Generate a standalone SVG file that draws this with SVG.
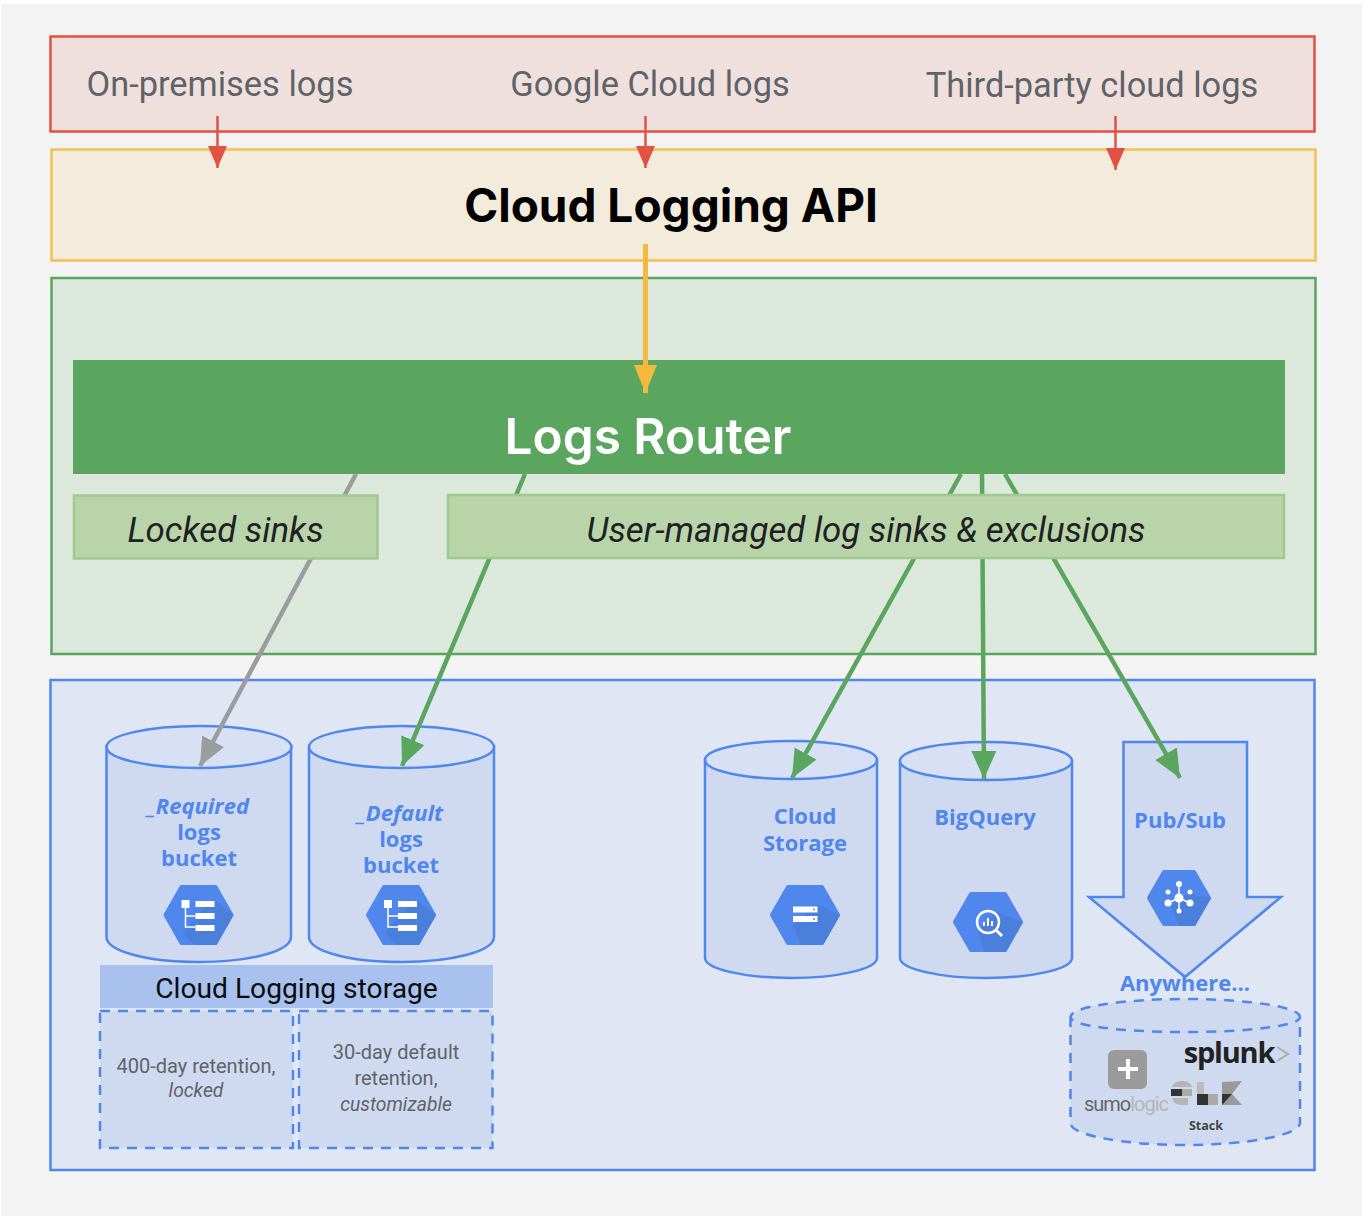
<svg xmlns="http://www.w3.org/2000/svg" width="1368" height="1222" viewBox="0 0 1368 1222">
<style>
.r{font-family:Roboto,"Liberation Sans",sans-serif}
.gray{fill:#5f6368;font-size:34.400px;text-anchor:middle}
.blue{font-family:"Open Sans","Liberation Sans",sans-serif;font-weight:700;font-size:22px;fill:#5087ec;text-anchor:middle}
.sm{font-family:Roboto,"Liberation Sans",sans-serif;font-size:20px;fill:#5f6368;text-anchor:middle}
.smi{font-size:19.300px;font-style:italic}
.sink{font-family:Roboto,"Liberation Sans",sans-serif;font-size:34.800px;font-style:italic;fill:#202124;text-anchor:middle}
.cyl{fill:#cfdaf1;stroke:#5087ec;stroke-width:2.500}
.top{fill:#d7e0f4;stroke:#5087ec;stroke-width:2.500}
.dash{fill:#cfdaf1;stroke:#5087ec;stroke-width:2.500;stroke-dasharray:10 8}
.hex{fill:#5087ec;stroke:#5087ec;stroke-width:4;stroke-linejoin:round}
.shade{fill:#4a7fdc}
.w{fill:#fff}
</style>
<defs>
<marker id="red" markerUnits="userSpaceOnUse" markerWidth="24" markerHeight="20" refX="22" refY="9.500" orient="auto"><path d="M0 0L22 9.500L0 19z" fill="#e15241"/></marker>
<marker id="yel" markerUnits="userSpaceOnUse" markerWidth="30" markerHeight="26" refX="28" refY="11.500" orient="auto"><path d="M0 0L28 11.500L0 23z" fill="#f4b93e"/></marker>
<marker id="grn" markerUnits="userSpaceOnUse" markerWidth="30" markerHeight="28" refX="28" refY="12.500" orient="auto"><path d="M0 0L28 12.500L0 25z" fill="#5aa65f"/></marker>
<marker id="gry" markerUnits="userSpaceOnUse" markerWidth="30" markerHeight="28" refX="28" refY="12.500" orient="auto"><path d="M0 0L28 12.500L0 25z" fill="#9b9ca0"/></marker>
</defs>
<rect width="1368" height="1222" fill="#fff"/>
<rect x="1" y="4" width="1361" height="1212" fill="#f3f3f3"/>

<g id="sources">
<rect x="50.500" y="36.500" width="1264" height="95" fill="#f0e0dd" stroke="#e15241" stroke-width="2.500"/>
<text class="r gray" x="220" y="96">On-premises logs</text>
<text class="r gray" x="650" y="96">Google Cloud logs</text>
<text class="r gray" x="1092" y="97">Third-party cloud logs</text>
</g>
<g id="api">
<rect x="51.500" y="149.500" width="1264" height="111" fill="#f3ecdc" stroke="#f4c04f" stroke-width="2.500"/>
<text x="671" y="222" font-family="Inter,Roboto,sans-serif" font-size="46" font-weight="700" fill="#000" text-anchor="middle">Cloud Logging API</text>
</g>
<g id="router-panel">
<rect x="51.500" y="278" width="1264" height="376" fill="#dde8dd" stroke="#5aa65f" stroke-width="2.500"/>
</g>
<g id="storage-panel">
<rect x="50.500" y="680" width="1264" height="490" fill="#e0e6f3" stroke="#5087ec" stroke-width="2.500"/>
</g>

<g id="required-bucket">
<path class="cyl" d="M106.500 747V937C106.500 951 147 962 199 962C251 962 291 951 291 937V747z"/>
<ellipse class="top" cx="199" cy="747" rx="92.500" ry="21"/>
<text class="blue" x="198" y="814" font-style="italic">_Required</text>
<text class="blue" x="199" y="840">logs</text>
<text class="blue" x="199" y="866">bucket</text>
<g transform="translate(198.500,915)">
<path class="hex" d="M-33 0L-17 -28H17L33 0L17 28H-17z"/>
<path class="shade" d="M14 -16L35 0L18 30H-4L-16 18z"/>
<rect class="w" x="-17" y="-15" width="8" height="8"/><path d="M-13 -8V12H-3M-13 1H-3" fill="none" stroke="#fff" stroke-width="1.500"/>
<rect class="w" x="-3" y="-14" width="19" height="6"/><rect class="w" x="-3" y="-2" width="19" height="6"/><rect class="w" x="-3" y="10" width="19" height="6"/>
</g>
</g>
<g id="default-bucket">
<path class="cyl" d="M309 747V937C309 951 349 962 401 962C453 962 494 951 494 937V747z"/>
<ellipse class="top" cx="401.500" cy="747" rx="92.500" ry="21"/>
<text class="blue" x="400" y="821" font-style="italic">_Default</text>
<text class="blue" x="401" y="847">logs</text>
<text class="blue" x="401" y="873">bucket</text>
<g transform="translate(401,915)">
<path class="hex" d="M-33 0L-17 -28H17L33 0L17 28H-17z"/>
<path class="shade" d="M14 -16L35 0L18 30H-4L-16 18z"/>
<rect class="w" x="-17" y="-15" width="8" height="8"/><path d="M-13 -8V12H-3M-13 1H-3" fill="none" stroke="#fff" stroke-width="1.500"/>
<rect class="w" x="-3" y="-14" width="19" height="6"/><rect class="w" x="-3" y="-2" width="19" height="6"/><rect class="w" x="-3" y="10" width="19" height="6"/>
</g>
</g>
<g id="logging-storage">
<rect x="100" y="965" width="393" height="43" fill="#a9c1ee"/>
<text class="r" x="296.500" y="998" font-size="28.200" fill="#0b0b0b" text-anchor="middle">Cloud Logging storage</text>
</g>
<g id="retention-400">
<rect class="dash" x="100" y="1011" width="193" height="137"/>
<text class="sm" x="196" y="1073">400-day retention,</text>
<text class="sm smi" x="196" y="1097">locked</text>
</g>
<g id="retention-30">
<rect class="dash" x="299" y="1011" width="193.500" height="137"/>
<text class="sm" x="396" y="1059">30-day default</text>
<text class="sm" x="396" y="1085">retention,</text>
<text class="sm smi" x="396" y="1111">customizable</text>
</g>
<g id="cloud-storage">
<path class="cyl" d="M705 760V958C705 969 745 978 791 978C837 978 877 969 877 958V760z"/>
<ellipse class="top" cx="791" cy="760" rx="86" ry="19"/>
<text class="blue" x="805" y="824">Cloud</text>
<text class="blue" x="805" y="851">Storage</text>
<g transform="translate(805,915)">
<path class="hex" d="M-33 0L-17 -28H17L33 0L17 28H-17z"/>
<path class="shade" d="M12 -11L35 0L18 30H-4L-12 10z"/>
<rect class="w" x="-12" y="-8.500" width="24.500" height="6"/><rect class="w" x="-12" y="1" width="24.500" height="6"/>
<path d="M8 -5.500H10M8 4H10" stroke="#5087ec" stroke-width="1.500"/>
</g>
</g>
<g id="bigquery">
<path class="cyl" d="M900 761V958C900 969 940 978 986 978C1032 978 1072 969 1072 958V761z"/>
<ellipse class="top" cx="986" cy="761" rx="86" ry="19"/>
<text class="blue" x="985" y="825">BigQuery</text>
<g transform="translate(988,922)">
<path class="hex" d="M-33 0L-17 -28H17L33 0L17 28H-17z"/>
<path class="shade" d="M8 -10L35 0L18 30H-4L-10 10z"/>
<circle cx="0" cy="0" r="11" fill="none" stroke="#fff" stroke-width="2.500"/>
<path d="M8 8L14 14" stroke="#fff" stroke-width="3"/>
<path d="M-4 0V4M0 -4V4M4 -1V4" stroke="#fff" stroke-width="2"/>
</g>
</g>
<g id="pubsub">
<path class="cyl" d="M1123.500 742H1247V897H1281L1185 977L1089 897H1123.500z" stroke-linejoin="miter"/>
<text class="blue" x="1180" y="828">Pub/Sub</text>
<g transform="translate(1179,898)">
<path class="hex" d="M-30 0L-15 -26H15L30 0L15 26H-15z"/>
<path class="shade" d="M8 -4L32 0L16 28H0L-8 8z"/>
<path d="M0 -14V0M0 0L-11 5M0 0L11 5M0 0V11" stroke="#fff" stroke-width="1.500"/>
<circle class="w" cx="0" cy="0" r="4.500"/><circle class="w" cx="0" cy="-14" r="3"/><circle class="w" cx="-11" cy="5" r="3.500"/><circle class="w" cx="11" cy="5" r="3.500"/><circle class="w" cx="0" cy="13" r="2.500"/><circle class="w" cx="-11" cy="-6" r="2.500"/><circle class="w" cx="11" cy="-6" r="2.500"/>
</g>
</g>
<g id="anywhere">
<text class="blue" x="1185" y="991">Anywhere...</text>
<path class="dash" d="M1070.500 1017V1123C1070.500 1135 1122 1145 1185 1145C1248 1145 1300 1135 1300 1123V1017C1300 1007 1248 999 1185 999C1122 999 1070.500 1007 1070.500 1017C1070.500 1026 1122 1032 1185 1032C1248 1032 1300 1026 1300 1017"/>
<rect x="1108" y="1050" width="39" height="39" rx="6" fill="#9b9b9b"/>
<path d="M1128 1059V1079M1118 1069H1138" stroke="#fff" stroke-width="4"/>
<text x="1126" y="1111" font-family="Roboto,sans-serif" font-size="20" letter-spacing="-1" text-anchor="middle" fill="#777"><tspan fill="#666">sumo</tspan><tspan fill="#b5b5b5">logic</tspan></text>
<text x="1229" y="1063" font-family="'Open Sans',sans-serif" font-size="29" font-weight="700" letter-spacing="-1.200" text-anchor="middle" fill="#222">splunk</text>
<path d="M1277 1047L1288 1054L1277 1061" fill="none" stroke="#aaa" stroke-width="2"/>
<path d="M1172 1087C1174 1079 1190 1079 1192 1087z" fill="#b5b5b5"/>
<rect x="1171" y="1089" width="11" height="7" fill="#333"/><rect x="1182" y="1089" width="10" height="7" fill="#aaa"/>
<path d="M1172 1098H1188V1105H1182C1177 1105 1173 1103 1172 1098z" fill="#b5b5b5"/>
<rect x="1197" y="1082" width="7" height="12" fill="#bbb"/>
<path d="M1197 1094H1208V1105H1197z" fill="#333"/>
<rect x="1208" y="1094" width="10" height="11" fill="#aaa"/>
<path d="M1222 1082V1105H1242L1232 1094L1242 1081z" fill="#999"/>
<path d="M1222 1094H1232L1222 1105z" fill="#333"/>
<text x="1206" y="1130" font-family="'Open Sans',sans-serif" font-size="12.500" font-weight="700" text-anchor="middle" fill="#444">Stack</text>
</g>

<g id="logs-router">
<rect x="73" y="360" width="1212" height="114" fill="#5aa65f"/>
<text x="648" y="454" font-family="Inter,Roboto,sans-serif" font-size="49.500" font-weight="600" fill="#fff" text-anchor="middle">Logs Router</text>
</g>

<g id="connectors" fill="none" stroke-width="4.500">
<path d="M217.500 116V168" stroke="#e15241" stroke-width="2.500" marker-end="url(#red)"/>
<path d="M645.500 116V168" stroke="#e15241" stroke-width="2.500" marker-end="url(#red)"/>
<path d="M1115.500 116V170" stroke="#e15241" stroke-width="2.500" marker-end="url(#red)"/>
<path d="M645.500 244V393" stroke="#f4b93e" stroke-width="5" marker-end="url(#yel)"/>
<path d="M356 474L200 766" stroke="#9b9ca0" marker-end="url(#gry)"/>
<path d="M525 474L402 766" stroke="#5aa65f" marker-end="url(#grn)"/>
<path d="M961 474L792 778" stroke="#5aa65f" marker-end="url(#grn)"/>
<path d="M982 474L984 779" stroke="#5aa65f" marker-end="url(#grn)"/>
<path d="M1005 474L1180 778" stroke="#5aa65f" marker-end="url(#grn)"/>
</g>

<g id="locked-sinks">
<rect x="74" y="495.500" width="303.500" height="63" fill="#bad4a9" stroke="#9fca8e" stroke-width="2.500"/>
<text class="sink" x="225.500" y="541.500">Locked sinks</text>
</g>
<g id="user-sinks">
<rect x="448" y="495" width="836" height="63" fill="#bad4a9" stroke="#9fca8e" stroke-width="2.500"/>
<text class="sink" x="866" y="541.500">User-managed log sinks &amp; exclusions</text>
</g>
</svg>
